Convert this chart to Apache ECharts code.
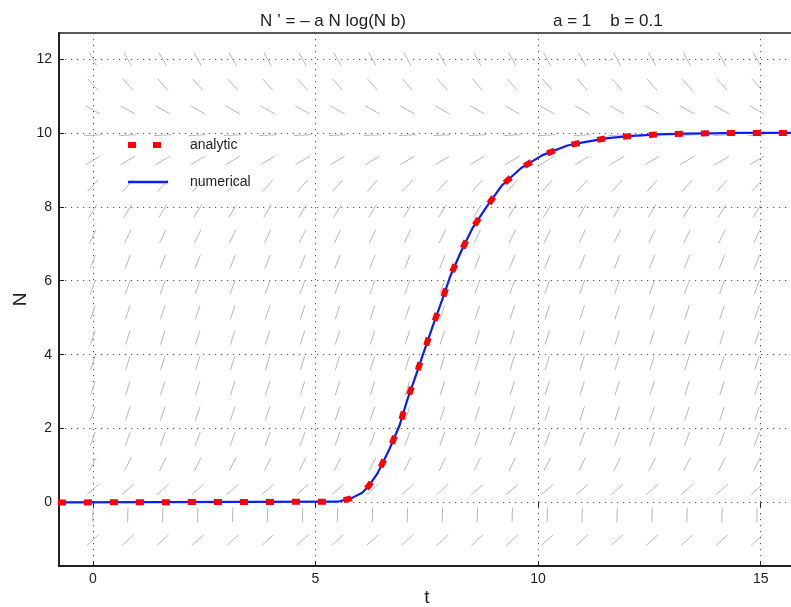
<!DOCTYPE html>
<html>
<head>
<meta charset="utf-8">
<script src="https://cdn.jsdelivr.net/npm/echarts@6/dist/echarts.min.js"></script>
<style>
html, body { margin: 0; padding: 0; background: #fff; }
#main { width: 791px; height: 607px; }
</style>
</head>
<body>
<div id="main"></div>
<script>
// tick labels
var tTicks = [0, 5, 10, 15];
var nTicks = [0, 2, 4, 6, 8, 10, 12];

// direction field grid
var fieldT = [0, 0.785, 1.57, 2.355, 3.14, 3.925, 4.71, 5.495, 6.28, 7.065,
              7.85, 8.635, 9.42, 10.205, 10.99, 11.775, 12.56, 13.345, 14.13, 14.915];
var fieldN = [-1.02, -0.335, 0.35, 1.035, 1.72, 2.405, 3.09, 3.775, 4.46, 5.145,
              5.83, 6.515, 7.2, 7.885, 8.57, 9.255, 9.94, 10.625, 11.31, 11.995];
// slope dN/dt of the segments in each row
var fieldSlope = [1.1, 40, 1.05, 2.4, 3.3, 3.6, 3.8, 3.9, 3.8, 3.6,
                  3.3, 3.0, 2.5, 2.0, 1.35, 0.72, 0.06, -0.68, -1.37, -2.15];

// solution curves
var curveT = [-0.785, 5.5, 5.8, 6.05, 6.2, 6.4, 6.66, 6.89, 7.06, 7.26, 7.45, 7.64, 7.84, 8.03,
              8.27, 8.52, 8.85, 9.18, 9.62, 10.1, 10.66, 10.98, 11.56, 12.12, 12.71, 13.3,
              13.88, 14.48, 15.08, 15.77];
var analyticN = [0, 0.02, 0.11, 0.26, 0.45, 0.8, 1.44, 2.09, 2.77, 3.45, 4.13, 4.79, 5.46, 6.13,
                 6.79, 7.41, 8.01, 8.57, 9.05, 9.4, 9.66, 9.74, 9.86, 9.92, 9.96, 9.98,
                 9.99, 10, 10, 10];
var numericalN = [0, 0.02, 0.11, 0.26, 0.45, 0.8, 1.44, 2.09, 2.77, 3.45, 4.13, 4.79, 5.46, 6.13,
                  6.79, 7.41, 8.01, 8.57, 9.05, 9.4, 9.66, 9.74, 9.86, 9.92, 9.96, 9.98,
                  9.99, 10, 10, 10];

var segLen = 0.39; // segment length in data units

var fieldData = [];
for (var i = 0; i < fieldN.length; i++) {
    for (var j = 0; j < fieldT.length; j++) {
        fieldData.push([fieldT[j], fieldN[i], fieldSlope[i]]);
    }
}
var analyticData = curveT.map(function (t, k) { return [t, analyticN[k]]; });
var numericalData = curveT.map(function (t, k) { return [t, numericalN[k]]; });

var font = 'Liberation Sans, Arial, Helvetica, sans-serif';

var option = {
    backgroundColor: '#fff',
    animation: false,
    title: [
        {
            text: 'N \u2019 = \u2013 a N log(N b)',
            left: 255, top: 8,
            textStyle: { fontFamily: font, fontSize: 17, fontWeight: 'normal', color: '#222' }
        },
        {
            text: 'a = 1    b = 0.1',
            left: 548, top: 8,
            textStyle: { fontFamily: font, fontSize: 17, fontWeight: 'normal', color: '#222' }
        }
    ],
    legend: {
        orient: 'vertical',
        left: 120,
        top: 133,
        itemWidth: 40,
        itemHeight: 10,
        itemGap: 23,
        itemStyle: { opacity: 0 },
        textStyle: { fontFamily: font, fontSize: 14, color: '#222', padding: [0, 0, 0, 17] },
        data: [
            { name: 'analytic', lineStyle: { width: 6, type: [8, 17], cap: 'butt', color: '#ff0000' } },
            { name: 'numerical', lineStyle: { width: 2.5, color: '#0a1ef5' } }
        ]
    },
    grid: {
        left: 59, right: -4, top: 33, bottom: 41,
        outerBoundsMode: 'none',
        containLabel: false,
        show: true,
        borderColor: '#222',
        borderWidth: 1.5
    },
    xAxis: [
        {
            type: 'value',
            min: -0.76, max: 15.77,
            name: 't',
            nameLocation: 'middle',
            nameGap: 22,
            nameMoveOverlap: false,
            nameTextStyle: { fontFamily: font, fontSize: 19, color: '#222' },
            axisLine: { show: true, onZero: false, lineStyle: { color: '#222', width: 2 } },
            axisTick: { show: true, inside: true, length: 5, customValues: tTicks, lineStyle: { color: '#222' } },
            axisLabel: { customValues: tTicks, fontFamily: font, fontSize: 14, color: '#222', margin: 6 },
            splitLine: { show: true, lineStyle: { color: '#555', type: [1.2, 4.8], width: 1 } }
        },
        {
            type: 'value',
            position: 'top',
            min: -0.76, max: 15.77,
            axisLine: { show: false },
            axisTick: { show: true, inside: true, length: 5, customValues: tTicks, lineStyle: { color: '#222' } },
            axisLabel: { show: false },
            splitLine: { show: false }
        }
    ],
    yAxis: {
        type: 'value',
        min: -1.72, max: 12.705,
        name: 'N',
        nameLocation: 'middle',
        nameRotate: 90,
        nameGap: 29,
        nameMoveOverlap: false,
        nameTextStyle: { fontFamily: font, fontSize: 19, color: '#222' },
        axisLine: { show: true, onZero: false, lineStyle: { color: '#222', width: 2 } },
        axisTick: { show: true, inside: true, length: 5, customValues: nTicks, lineStyle: { color: '#222' } },
        axisLabel: { customValues: nTicks, fontFamily: font, fontSize: 14, color: '#222', margin: 7 },
        splitLine: { show: true, lineStyle: { color: '#555', type: [1.2, 4.8], width: 1 } }
    },
    series: [
        {
            name: 'field',
            type: 'custom',
            silent: true,
            data: fieldData,
            renderItem: function (params, api) {
                var t = api.value(0), n = api.value(1), f = api.value(2);
                var dx = segLen / 2 / Math.sqrt(1 + f * f);
                var dy = f * dx;
                var p1 = api.coord([t - dx, n - dy]);
                var p2 = api.coord([t + dx, n + dy]);
                return {
                    type: 'line',
                    shape: { x1: p1[0], y1: p1[1], x2: p2[0], y2: p2[1] },
                    style: { stroke: '#b8b8b8', lineWidth: 1 }
                };
            }
        },
        {
            name: 'numerical',
            type: 'line',
            data: numericalData,
            showSymbol: false,
            symbol: 'none',
            smooth: false,
            color: '#0a1ef5',
            lineStyle: { color: '#0a1ef5', width: 2.2 }
        },
        {
            name: 'analytic',
            type: 'line',
            data: analyticData,
            showSymbol: false,
            symbol: 'none',
            smooth: false,
            color: '#ff0000',
            lineStyle: { color: '#ff0000', width: 6, type: [8, 18], cap: 'butt' }
        }
    ]
};

var chart = echarts.init(document.getElementById('main'));
chart.setOption(option);
</script>
</body>
</html>
